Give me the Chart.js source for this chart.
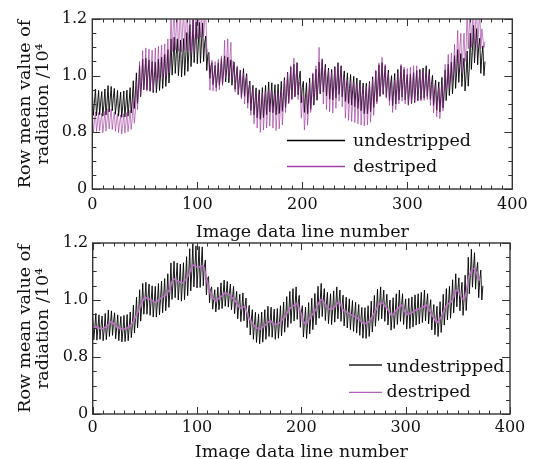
<!DOCTYPE html>
<html lang="en">
<head>
<meta charset="UTF-8">
<title>Row mean value of radiation</title>
<script src="https://cdn.jsdelivr.net/npm/chart.js@4.4.1/dist/chart.umd.min.js"></script>
<style>
  html, body { margin: 0; padding: 0; background: #fff; overflow: hidden; }
  .panel { position: absolute; left: 0; width: 536px; height: 250px; }
  #panelA { top: 0; }
  #panelB { top: 224px; }
</style>
</head>
<body>
<div class="panel" id="panelA"><canvas id="chartA" width="536" height="250"></canvas></div>
<div class="panel" id="panelB"><canvas id="chartB" width="536" height="250"></canvas></div>
<script>
// striped series: one value per image line; smooth destriped: every 2 lines
const stripedStep = 1;
const smoothStep = 2;

// undestripped row means (both panels), lines 0..374
const undestripped = [
  0.950, 0.860, 0.902, 0.953, 0.859, 0.900, 0.948, 0.862, 0.907, 0.944, 0.857, 0.896, 0.953, 0.861, 0.904,
  0.965, 0.872, 0.915, 0.962, 0.876, 0.922, 0.955, 0.864, 0.903, 0.948, 0.857, 0.900, 0.942, 0.853, 0.893,
  0.946, 0.854, 0.898, 0.949, 0.857, 0.904, 0.958, 0.868, 0.910, 0.982, 0.884, 0.935, 1.010, 0.902, 0.955,
  1.036, 0.926, 0.978, 1.058, 0.950, 1.000, 1.062, 0.950, 1.008, 1.056, 0.946, 0.997, 1.050, 0.940, 0.992,
  1.048, 0.940, 0.990, 1.058, 0.948, 1.003, 1.066, 0.955, 1.012, 1.075, 0.962, 1.015, 1.092, 0.974, 1.030,
  1.130, 1.002, 1.062, 1.136, 1.008, 1.075, 1.130, 1.000, 1.060, 1.126, 0.996, 1.058, 1.131, 1.001, 1.070,
  1.152, 1.015, 1.085, 1.180, 1.032, 1.100, 1.198, 1.046, 1.120, 1.190, 1.042, 1.112, 1.188, 1.044, 1.118,
  1.186, 1.050, 1.115, 1.140, 1.018, 1.075, 1.082, 0.990, 1.035, 1.046, 0.968, 1.005, 1.036, 0.958, 0.996,
  1.045, 0.966, 1.004, 1.060, 0.970, 1.016, 1.070, 0.978, 1.022, 1.065, 0.975, 1.022, 1.056, 0.966, 1.008,
  1.048, 0.952, 0.998, 1.030, 0.934, 0.984, 1.020, 0.924, 0.970, 1.025, 0.927, 0.978, 1.007, 0.903, 0.952,
  0.981, 0.877, 0.930, 0.966, 0.862, 0.912, 0.957, 0.851, 0.905, 0.950, 0.846, 0.896, 0.958, 0.852, 0.906,
  0.966, 0.862, 0.915, 0.978, 0.872, 0.924, 0.975, 0.869, 0.920, 0.968, 0.862, 0.913, 0.970, 0.866, 0.920,
  0.980, 0.874, 0.926, 0.993, 0.887, 0.940, 1.012, 0.904, 0.956, 1.030, 0.918, 0.975, 1.040, 0.926, 0.982,
  1.046, 0.932, 0.990, 1.016, 0.904, 0.958, 0.980, 0.870, 0.924, 0.975, 0.865, 0.918, 0.991, 0.881, 0.935,
  1.006, 0.896, 0.950, 1.023, 0.913, 0.968, 1.048, 0.936, 0.992, 1.058, 0.942, 1.000, 1.040, 0.928, 0.985,
  1.027, 0.917, 0.972, 1.022, 0.914, 0.966, 1.032, 0.922, 0.978, 1.046, 0.934, 0.990, 1.035, 0.925, 0.980,
  1.017, 0.909, 0.962, 1.010, 0.902, 0.955, 1.004, 0.896, 0.950, 0.998, 0.890, 0.944, 0.992, 0.884, 0.938,
  0.984, 0.876, 0.930, 0.974, 0.866, 0.920, 0.973, 0.865, 0.918, 0.980, 0.872, 0.926, 0.996, 0.888, 0.942,
  1.016, 0.908, 0.962, 1.038, 0.928, 0.984, 1.046, 0.934, 0.990, 1.035, 0.925, 0.980, 1.020, 0.912, 0.966,
  1.000, 0.894, 0.948, 1.008, 0.900, 0.954, 1.022, 0.914, 0.968, 1.035, 0.925, 0.980, 1.022, 0.914, 0.968,
  1.004, 0.898, 0.950, 1.006, 0.900, 0.953, 1.011, 0.905, 0.958, 1.018, 0.912, 0.965, 1.022, 0.916, 0.969,
  1.027, 0.921, 0.974, 1.035, 0.927, 0.981, 1.022, 0.916, 0.969, 1.001, 0.895, 0.948, 0.984, 0.878, 0.931,
  0.978, 0.872, 0.925, 0.994, 0.886, 0.940, 1.020, 0.912, 0.966, 1.040, 0.930, 0.985, 1.048, 0.936, 0.992,
  1.071, 0.955, 1.013, 1.092, 0.976, 1.034, 1.078, 0.962, 1.020, 1.062, 0.946, 1.004, 1.087, 0.963, 1.025,
  1.150, 1.022, 1.086, 1.178, 1.045, 1.110, 1.166, 1.038, 1.102, 1.132, 1.008, 1.070, 1.105, 1.000, 1.050
];

// destriped, upper panel, lines 0..374
const destripedA = [
  0.876, 0.800, 0.838, 0.872, 0.803, 0.836, 0.870, 0.806, 0.840, 0.868, 0.798, 0.832, 0.874, 0.804, 0.840,
  0.884, 0.812, 0.848, 0.882, 0.810, 0.845, 0.872, 0.804, 0.836, 0.866, 0.798, 0.832, 0.862, 0.794, 0.828,
  0.866, 0.798, 0.832, 0.870, 0.802, 0.836, 0.878, 0.810, 0.845, 0.910, 0.832, 0.872, 0.980, 0.880, 0.930,
  1.050, 0.930, 0.990, 1.088, 0.950, 1.018, 1.098, 0.945, 1.020, 1.094, 0.944, 1.018, 1.090, 0.948, 1.020,
  1.098, 0.975, 1.035, 1.104, 0.985, 1.045, 1.108, 0.990, 1.050, 1.112, 0.995, 1.052, 1.130, 1.010, 1.070,
  1.235, 1.085, 1.160, 1.242, 1.090, 1.165, 1.236, 1.086, 1.160, 1.238, 1.084, 1.162, 1.240, 1.090, 1.165,
  1.235, 1.088, 1.160, 1.205, 1.080, 1.142, 1.200, 1.085, 1.142, 1.248, 1.130, 1.190, 1.250, 1.135, 1.192,
  1.252, 1.138, 1.195, 1.230, 1.100, 1.080, 1.052, 0.948, 1.000, 1.055, 0.946, 1.000, 1.050, 0.944, 0.998,
  1.058, 0.950, 1.004, 1.070, 0.965, 1.018, 1.125, 0.990, 1.058, 1.130, 0.992, 1.060, 1.118, 0.985, 1.052,
  1.045, 0.942, 0.994, 1.035, 0.932, 0.984, 1.020, 0.918, 0.970, 1.010, 0.900, 0.955, 1.000, 0.885, 0.942,
  0.975, 0.860, 0.918, 0.955, 0.830, 0.892, 0.945, 0.815, 0.880, 0.935, 0.800, 0.868, 0.940, 0.808, 0.874,
  0.945, 0.815, 0.880, 0.952, 0.822, 0.887, 0.946, 0.815, 0.880, 0.938, 0.806, 0.872, 0.940, 0.812, 0.876,
  0.950, 0.826, 0.888, 0.985, 0.870, 0.928, 1.010, 0.900, 0.955, 1.035, 0.915, 0.975, 1.062, 0.925, 0.992,
  1.040, 0.915, 0.978, 0.960, 0.850, 0.905, 0.930, 0.808, 0.870, 0.940, 0.825, 0.882, 0.975, 0.870, 0.922,
  1.010, 0.905, 0.958, 1.035, 0.925, 0.980, 1.100, 0.945, 1.020, 1.060, 0.900, 0.980, 1.030, 0.880, 0.955,
  1.020, 0.872, 0.946, 1.010, 0.868, 0.940, 1.025, 0.885, 0.955, 1.042, 0.910, 0.976, 1.030, 0.890, 0.960,
  0.995, 0.850, 0.922, 0.985, 0.842, 0.914, 0.980, 0.838, 0.910, 0.976, 0.834, 0.905, 0.972, 0.830, 0.900,
  0.966, 0.825, 0.895, 0.960, 0.822, 0.890, 0.962, 0.826, 0.894, 0.972, 0.836, 0.904, 0.990, 0.860, 0.925,
  1.020, 0.900, 0.960, 1.045, 0.925, 0.985, 1.065, 0.935, 1.000, 1.040, 0.920, 0.980, 1.010, 0.895, 0.952,
  0.975, 0.870, 0.922, 0.985, 0.880, 0.932, 1.010, 0.900, 0.955, 1.040, 0.910, 0.975, 1.030, 0.900, 0.965,
  1.025, 0.895, 0.960, 1.030, 0.900, 0.965, 1.035, 0.905, 0.970, 1.035, 0.910, 0.972, 1.015, 0.910, 0.962,
  1.012, 0.912, 0.962, 1.018, 0.916, 0.967, 1.005, 0.895, 0.950, 0.975, 0.868, 0.922, 0.962, 0.855, 0.908,
  0.958, 0.848, 0.903, 0.970, 0.875, 0.922, 1.040, 0.950, 0.995, 1.075, 0.960, 1.018, 1.080, 0.980, 1.030,
  1.110, 1.010, 1.060, 1.160, 1.035, 1.098, 1.150, 1.010, 1.080, 1.150, 1.050, 1.100, 1.240, 1.095, 1.168,
  1.250, 1.100, 1.175, 1.252, 1.110, 1.180, 1.245, 1.100, 1.172, 1.235, 1.095, 1.165, 1.130, 1.100, 1.120
];

// destriped, lower panel, lines 0..372 every 2 lines
const destripedB = [
  0.902, 0.905, 0.906, 0.902, 0.899, 0.901, 0.904, 0.910, 0.918, 0.925,
  0.917, 0.909, 0.905, 0.900, 0.899, 0.898, 0.901, 0.903, 0.910, 0.918,
  0.933, 0.948, 0.964, 0.981, 0.998, 1.010, 1.006, 1.004, 1.000, 0.995,
  0.991, 0.997, 1.003, 1.008, 1.013, 1.019, 1.028, 1.038, 1.066, 1.074,
  1.070, 1.065, 1.062, 1.060, 1.066, 1.077, 1.090, 1.107, 1.123, 1.120,
  1.116, 1.115, 1.118, 1.120, 1.094, 1.062, 1.035, 1.012, 1.003, 0.997,
  1.003, 1.009, 1.015, 1.024, 1.024, 1.020, 1.015, 1.007, 1.000, 0.988,
  0.975, 0.972, 0.975, 0.977, 0.955, 0.934, 0.924, 0.914, 0.906, 0.901,
  0.898, 0.903, 0.908, 0.914, 0.921, 0.928, 0.922, 0.915, 0.914, 0.918,
  0.922, 0.932, 0.940, 0.952, 0.965, 0.974, 0.979, 0.984, 0.988, 0.970,
  0.950, 0.925, 0.915, 0.926, 0.936, 0.946, 0.956, 0.968, 0.984, 1.000,
  1.000, 0.989, 0.979, 0.972, 0.965, 0.971, 0.977, 0.986, 0.994, 0.980,
  0.965, 0.961, 0.956, 0.952, 0.948, 0.944, 0.940, 0.935, 0.930, 0.923,
  0.916, 0.919, 0.922, 0.930, 0.942, 0.955, 0.970, 0.983, 0.990, 0.989,
  0.980, 0.971, 0.960, 0.947, 0.948, 0.960, 0.968, 0.976, 0.983, 0.968,
  0.952, 0.950, 0.953, 0.956, 0.961, 0.965, 0.968, 0.970, 0.974, 0.979,
  0.983, 0.969, 0.955, 0.942, 0.931, 0.920, 0.930, 0.940, 0.957, 0.975,
  0.985, 0.990, 0.994, 1.013, 1.032, 1.035, 1.020, 1.006, 1.002, 1.025,
  1.077, 1.095, 1.110, 1.110, 1.094, 1.070, 1.072
];

// broken y axis: bottom tick is labelled 0
const yTicks = [0.6, 0.8, 1.0, 1.2];
const yTickLabels = ['0', '0.8', '1.0', '1.2'];
const xTicks = [0, 100, 200, 300, 400];

const toPoints = (arr, step) => arr.map((v, i) => ({x: i * step, y: v}));

Chart.defaults.font.family = "'DejaVu Serif', serif";
Chart.defaults.color = '#111';

// box round the plot with inward ticks on all four sides
const frameTicks = {
  id: 'frameTicks',
  afterDraw(chart) {
    const {ctx, chartArea: a, scales} = chart;
    const x = scales.x, y = scales.y;
    ctx.save();
    ctx.strokeStyle = '#333';
    ctx.lineWidth = 1;
    ctx.beginPath();
    for (let v = 0; v <= 400; v += 10) {
      const px = Math.round(x.getPixelForValue(v)) + 0.5;
      const len = v % 100 === 0 ? 7 : 3.5;
      ctx.moveTo(px, a.bottom); ctx.lineTo(px, a.bottom - len);
      ctx.moveTo(px, a.top); ctx.lineTo(px, a.top + len);
    }
    for (let k = 0; k <= 12; k++) {
      const py = Math.round(y.getPixelForValue(0.6 + k * 0.05)) + 0.5;
      const len = k % 4 === 0 ? 8 : 4;
      ctx.moveTo(a.left, py); ctx.lineTo(a.left + len, py);
      ctx.moveTo(a.right, py); ctx.lineTo(a.right - len, py);
    }
    ctx.stroke();
    ctx.lineWidth = 1.4;
    ctx.strokeRect(a.left, a.top, a.right - a.left, a.bottom - a.top);
    ctx.restore();
  }
};

// legend drawn inside the plot
const inlineLegend = {
  id: 'inlineLegend',
  afterDraw(chart, args, opts) {
    const ctx = chart.ctx;
    ctx.save();
    ctx.font = "17.5px 'DejaVu Serif'";
    ctx.fillStyle = '#111';
    ctx.textBaseline = 'alphabetic';
    chart.data.datasets.forEach((ds, i) => {
      const row = opts.rows[i];
      ctx.strokeStyle = ds.legendColor || ds.borderColor;
      ctx.lineWidth = row.w;
      ctx.beginPath();
      ctx.moveTo(opts.x0, row.lineY);
      ctx.lineTo(opts.x1, row.lineY);
      ctx.stroke();
      ctx.fillText(ds.label, opts.textX, row.baseY);
    });
    ctx.restore();
  }
};

function makeOptions(p) {
  return {
    responsive: false,
    animation: false,
    devicePixelRatio: 1,
    layout: {padding: {top: p.top, right: p.right, left: 0, bottom: 0}},
    elements: {point: {radius: 0}, line: {tension: 0, borderJoinStyle: 'bevel'}},
    plugins: {
      legend: {display: false},
      tooltip: {enabled: false},
      inlineLegend: p.legend
    },
    scales: {
      x: {
        type: 'linear',
        min: 0, max: 400,
        afterBuildTicks: s => { s.ticks = xTicks.map(v => ({value: v})); },
        afterFit: s => { s.height = p.xHeight; },
        grid: {display: false, drawTicks: false},
        border: {display: false},
        ticks: {padding: p.xTickPad, font: {size: 16}, maxRotation: 0},
        title: {
          display: true,
          text: 'Image data line number',
          font: {size: 17.5},
          padding: {top: 0, bottom: p.xTitlePad}
        }
      },
      y: {
        type: 'linear',
        min: 0.6, max: 1.2,
        afterBuildTicks: s => { s.ticks = yTicks.map(v => ({value: v})); },
        afterFit: s => { s.width = p.yWidth; },
        grid: {display: false, drawTicks: false},
        border: {display: false},
        ticks: {
          padding: p.yTickPad,
          font: {size: 16},
          callback: v => yTickLabels[yTicks.findIndex(t => Math.abs(t - v) < 1e-6)]
        },
        title: {
          display: true,
          text: ['Row mean value of', 'radiation /10\u2074'],
          font: {size: 17.5, lineHeight: 1.03},
          padding: {top: 16, bottom: 0}
        }
      }
    }
  };
}

new Chart(document.getElementById('chartA'), {
  type: 'line',
  data: {
    datasets: [{
      label: 'undestripped',
      data: toPoints(undestripped, stripedStep),
      borderColor: '#000',
      borderWidth: 0.9,
      order: 1
    }, {
      label: 'destriped',
      data: toPoints(destripedA, stripedStep),
      borderColor: 'rgba(150, 40, 150, 0.65)',
      legendColor: '#a040a8',
      borderWidth: 0.9,
      order: 0
    }]
  },
  options: makeOptions({
    top: 19, right: 23.7, yWidth: 92.3, xHeight: 61,
    xTickPad: 5.9, xTitlePad: 7.5, yTickPad: 5,
    legend: {x0: 287, x1: 345, textX: 353, rows: [
      {lineY: 140.5, baseY: 146, w: 1.6},
      {lineY: 166.5, baseY: 172, w: 1.6}
    ]}
  }),
  plugins: [frameTicks, inlineLegend]
});

new Chart(document.getElementById('chartB'), {
  type: 'line',
  data: {
    datasets: [{
      label: 'undestripped',
      data: toPoints(undestripped, stripedStep),
      borderColor: '#000',
      legendColor: '#222',
      borderWidth: 0.9,
      order: 1
    }, {
      label: 'destriped',
      data: toPoints(destripedB, smoothStep),
      borderColor: '#c070c8',
      legendColor: '#b060b8',
      borderWidth: 1.5,
      order: 0
    }]
  },
  options: makeOptions({
    top: 19, right: 26, yWidth: 92.7, xHeight: 60,
    xTickPad: 3.9, xTitlePad: 11.5, yTickPad: 4.4,
    legend: {x0: 349, x1: 382, textX: 386.5, rows: [
      {lineY: 141, baseY: 147.7, w: 1.6},
      {lineY: 168.3, baseY: 173.3, w: 1.2}
    ]}
  }),
  plugins: [frameTicks, inlineLegend]
});
</script>
</body>
</html>
